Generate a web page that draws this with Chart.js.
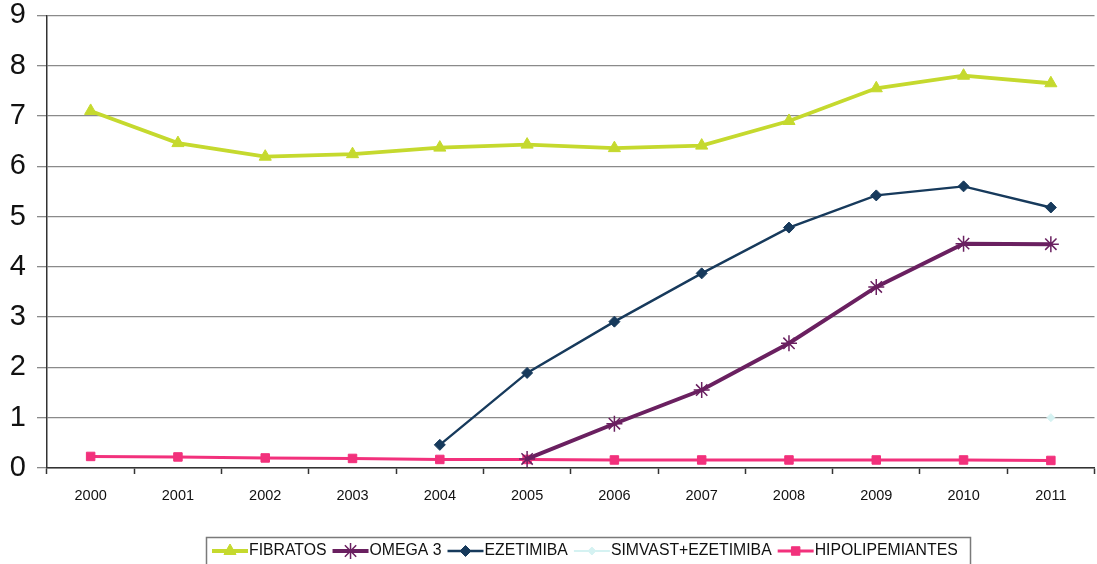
<!DOCTYPE html>
<html><head><meta charset="utf-8">
<script src="https://cdn.jsdelivr.net/npm/chart.js@4.4.0/dist/chart.umd.min.js"></script>
<style>
html,body{margin:0;padding:0;background:#fff;overflow:hidden;width:1097px;height:564px}
#wrap{position:absolute;left:0;top:0;width:1104px;height:564px}
</style></head>
<body><div id="wrap"><canvas id="c" width="1104" height="564"></canvas></div>
<script>
const years = ['2000','2001','2002','2003','2004','2005','2006','2007','2008','2009','2010','2011'];
const fibratos = [7.1, 6.46, 6.19, 6.24, 6.37, 6.43, 6.36, 6.41, 6.9, 7.55, 7.8, 7.65];
const omega3 = [null, null, null, null, null, 0.18, 0.88, 1.55, 2.48, 3.6, 4.46, 4.45];
const ezetimiba = [null, null, null, null, 0.46, 1.89, 2.91, 3.87, 4.78, 5.42, 5.6, 5.18];
const simvastEzetimiba = [null, null, null, null, null, null, null, null, null, null, null, 1.0];
const hipolipemiantes = [0.23, 0.22, 0.2, 0.19, 0.17, 0.17, 0.16, 0.16, 0.16, 0.16, 0.16, 0.15];
const yTicks = [0, 1, 2, 3, 4, 5, 6, 7, 8, 9];

const FONT = "'Liberation Sans', Arial, sans-serif";

const legendBox = {
  id: 'legendBox',
  afterDraw(chart) {
    const ctx = chart.ctx;
    ctx.save();
    ctx.strokeStyle = '#7a7a7a';
    ctx.lineWidth = 1.5;
    ctx.strokeRect(206.5, 537.5, 764, 30);
    ctx.font = '15.8px ' + FONT;
    ctx.textBaseline = 'middle';
    ctx.textAlign = 'left';
    let x = 212;
    const cy = 551;
    chart.data.datasets.forEach(ds => {
      const lw = 36;
      ctx.strokeStyle = ds.borderColor;
      ctx.fillStyle = ds.backgroundColor;
      ctx.lineWidth = ds.borderWidth;
      ctx.beginPath();
      ctx.moveTo(x, cy);
      ctx.lineTo(x + lw, cy);
      ctx.stroke();
      ctx.lineWidth = ds.pointBorderWidth || 1;
      Chart.helpers.drawPoint(ctx, {pointStyle: ds.pointStyle, radius: ds.pointRadius, rotation: 0, borderWidth: ds.pointBorderWidth || 1}, x + lw / 2, cy);
      ctx.fillStyle = '#111';
      ctx.fillText(ds.label, x + lw + 1, cy);
      x += lw + 1 + ctx.measureText(ds.label).width + 6;
    });
    ctx.restore();
  }
};

new Chart(document.getElementById('c'), {
  type: 'line',
  data: {
    labels: years,
    datasets: [
      {label: 'FIBRATOS', data: fibratos, borderColor: '#c5d92e', backgroundColor: '#c5d92e', borderWidth: 3.8,
       pointStyle: 'triangle', pointRadius: 7, pointBorderWidth: 1},
      {label: 'OMEGA 3', data: omega3, borderColor: '#6a2060', backgroundColor: '#6a2060', borderWidth: 4,
       pointStyle: 'star', pointRadius: 8, pointBorderWidth: 1.5},
      {label: 'EZETIMIBA', data: ezetimiba, borderColor: '#173a5c', backgroundColor: '#173a5c', borderWidth: 2.4,
       pointStyle: 'rectRot', pointRadius: 5.5, pointBorderWidth: 1},
      {label: 'SIMVAST+EZETIMIBA', data: simvastEzetimiba, borderColor: '#d5f2f2', backgroundColor: '#d5f2f2', borderWidth: 2,
       pointStyle: 'rectRot', pointRadius: 4, pointBorderWidth: 1},
      {label: 'HIPOLIPEMIANTES', data: hipolipemiantes, borderColor: '#f2317c', backgroundColor: '#f2317c', borderWidth: 3,
       pointStyle: 'rect', pointRadius: 6, pointBorderWidth: 1}
    ]
  },
  options: {
    responsive: false,
    animation: false,
    spanGaps: false,
    layout: {padding: {top: 13, left: 0, right: 0, bottom: 0}},
    plugins: {legend: {display: false}, tooltip: {enabled: false}},
    scales: {
      x: {
        offset: true,
        grid: {display: true, drawOnChartArea: false, offset: true, tickLength: 6, color: '#333', tickWidth: 1.5},
        border: {color: '#333', width: 1.5},
        ticks: {font: {family: FONT, size: 14.5}, color: '#111', padding: 13, maxRotation: 0, autoSkip: false},
        afterFit(s) { s.height = 96; }
      },
      y: {
        min: 0, max: 9,
        afterBuildTicks(s) { s.ticks = yTicks.map(v => ({value: v})); },
        ticks: {font: {family: FONT, size: 29, lineHeight: 0.3}, color: '#111', padding: 11},
        grid: {color: '#8a8a8a', lineWidth: 1.3, tickLength: 10},
        border: {color: '#333', width: 1.5},
        afterFit(s) { s.width = 47; }
      }
    }
  },
  plugins: [legendBox]
});
</script>
</body></html>
